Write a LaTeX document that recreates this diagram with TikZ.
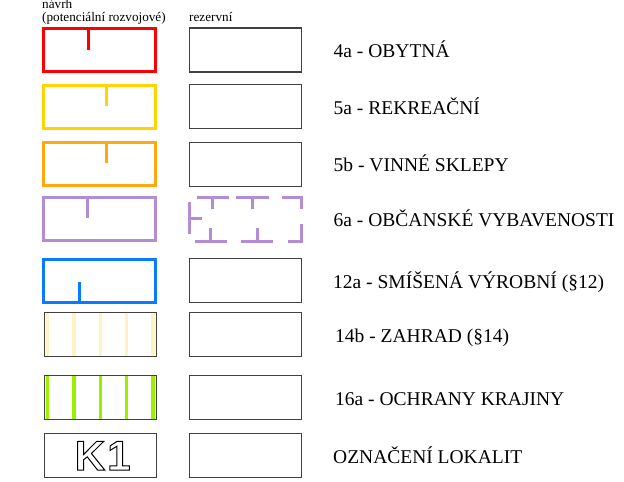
\documentclass[tikz,border=0pt]{standalone}
\usepackage{fontspec}
\setmainfont{Liberation Serif}
\newfontfamily\kodfont{Liberation Sans}
\usetikzlibrary{positioning}
\definecolor{bydleni}{HTML}{FF0000}
\definecolor{rekreace}{HTML}{FFD500}
\definecolor{sklepy}{HTML}{FFA80F}
\definecolor{vybavenost}{HTML}{B28DD6}
\definecolor{vyroba}{HTML}{0A7AFF}
\definecolor{zahrady}{HTML}{FFF2C4}
\definecolor{krajina}{HTML}{9BF000}
\definecolor{ramecek}{HTML}{404040}
\tikzset{
  navrh/.style={draw=#1, line width=3pt, minimum width=112pt,
    minimum height=43pt, inner sep=0pt, outer sep=0pt},
  rezerva/.style={draw=ramecek, line width=1.2pt, minimum width=112pt,
    minimum height=44pt, inner sep=0pt, outer sep=0pt},
  carka/.style={draw=#1, line width=3pt},
  pruh/.style={draw=#1, line width=3.5pt},
  popis/.style={anchor=west, inner sep=0pt, text height=15pt,
    text depth=0pt, font=\fontsize{19.5}{22}\selectfont},
  hlavicka/.style={anchor=base west, inner sep=0pt,
    font=\fontsize{13.2}{15}\selectfont},
}
\def\Obrys#1{\special{pdf:literal direct 1 Tr 1 w}#1\special{pdf:literal direct 0 Tr}}

\begin{document}
\begin{tikzpicture}[x=1pt,y=-1pt]
  \useasboundingbox (0,0) rectangle (624,482);
  % Column headers
  \node[hlavicka] (hnavrh) at (42,8.8) {návrh};
  \node[hlavicka] (hpotencial) at (42,21.4) {(potenciální rozvojové)};
  \node[hlavicka] (hrezerva) at (189,21.4) {rezervní};
  % Proposed areas
  \node[navrh=bydleni] (n4a) at (99.7,50) {};
  \node[navrh=rekreace] (n5a) at (99.7,106.5) {};
  \node[navrh=sklepy] (n5b) at (99.7,164.3) {};
  \node[navrh=vybavenost] (n6a) at (99.7,219.2) {};
  \node[navrh=vyroba] (n12a) at (99.7,280.5) {};
  \node[rezerva] (n14b) at (100.2,334.7) {};
  \node[rezerva] (n16a) at (100.2,397.8) {};
  \node[rezerva] (nK1) at (100.2,455.7) {};
  % Inner ticks of the proposed areas
  \draw[carka=bydleni] (n4a.north west) ++(44.6,0) -- ++(0,21.5);
  \draw[carka=rekreace] (n5a.north west) ++(62.3,0) -- ++(0,21);
  \draw[carka=sklepy] (n5b.north west) ++(62.6,0) -- ++(0,20.5);
  \draw[carka=vybavenost] (n6a.north west) ++(44,0) -- ++(0,20.6);
  \draw[carka=vyroba] (n12a.south west) ++(35.3,0) -- ++(0,-20.3);
  % Stripes of gardens and landscape
  \foreach \i in {0,...,4} {
    \draw[pruh=zahrady] (n14b.north west) ++({3.4+26.35*\i},0.6) -- ++(0,42.8);
    \draw[pruh=krajina] (n16a.north west) ++({3.4+26.35*\i},0.6) -- ++(0,42.8);
  }
  \node[inner sep=0pt, font={\kodfont\bfseries\fontsize{42}{42}\selectfont}]
    (k1) at ([xshift=2.5pt]nK1.center) {\Obrys{K\kern2pt1}};
  % Reserve areas
  \node[rezerva] (r4a) at (245.5,50) {};
  \node[rezerva] (r5a) at (245.5,106.5) {};
  \node[rezerva] (r5b) at (245.5,164.3) {};
  \node[rezerva, draw=none] (r6a) at (245.5,219.2) {};
  \node[rezerva] (r12a) at (245.5,280.5) {};
  \node[rezerva] (r14b) at (245.5,334.7) {};
  \node[rezerva] (r16a) at (245.5,397.8) {};
  \node[rezerva] (rK1) at (245.5,455.7) {};
  % Dashed reserve frame of 6a
  \begin{scope}[shift={(r6a.north west)}, carka=vybavenost]
    \draw (0,5) -- (0,37);
    \draw (0,21) -- (12,21);
    \draw (7.4,0) -- (39.4,0) (23.4,0) -- (23.4,12);
    \draw (46.4,0) -- (79,0) (62.7,0) -- (62.7,12);
    \draw (92.7,0) -- (112,0) -- (112,12);
    \draw (5.7,44) -- (37.7,44) (21.4,44) -- (21.4,31);
    \draw (51.4,44) -- (83.7,44) (68,44) -- (68,31);
    \draw (98,44) -- (112,44) -- (112,27);
  \end{scope}
  % Legend texts
  \node[popis, right=32pt of r4a] (p4a) {4a - OBYTNÁ};
  \node[popis, right=32pt of r5a] (p5a) {5a - REKREAČNÍ};
  \node[popis, right=32pt of r5b] (p5b) {5b - VINNÉ SKLEPY};
  \node[popis, right=32pt of r6a] (p6a) {6a - OBČANSKÉ VYBAVENOSTI};
  \node[popis, right=31.5pt of r12a] (p12a) {12a - SMÍŠENÁ VÝROBNÍ (§12)};
  \node[popis, right=33.5pt of r14b] (p14b) {14b - ZAHRAD (§14)};
  \node[popis, right=33.5pt of r16a] (p16a) {16a - OCHRANY KRAJINY};
  \node[popis, right=31.5pt of rK1] (pK1) {OZNAČENÍ LOKALIT};
\end{tikzpicture}
\end{document}
